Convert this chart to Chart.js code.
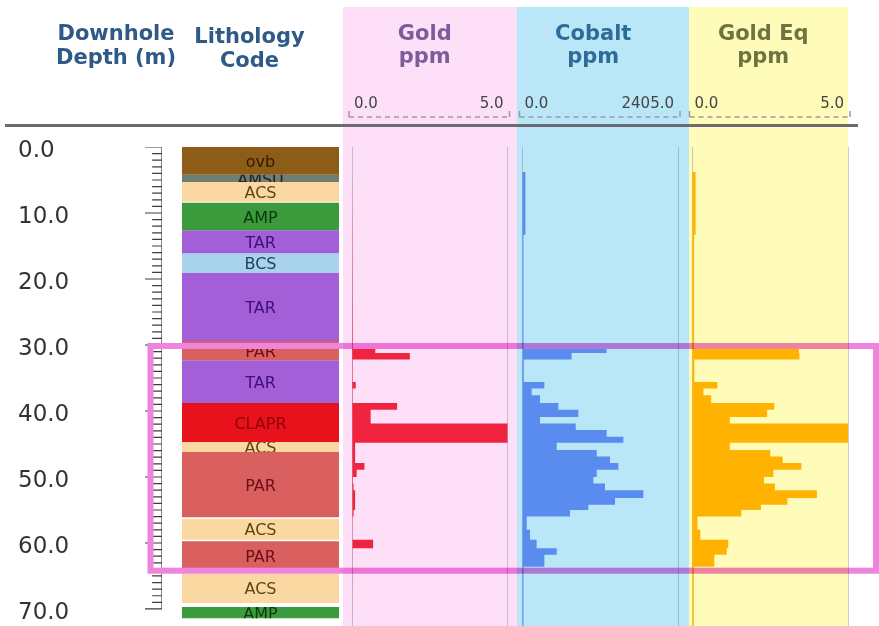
<!DOCTYPE html>
<html>
<head>
<meta charset="utf-8">
<title>Downhole log</title>
<script src="https://cdn.jsdelivr.net/npm/chart.js@4.4.1/dist/chart.umd.min.js"></script>
<style>
  html, body { margin: 0; padding: 0; background: #fff; }
  canvas { display: block; }
</style>
</head>
<body>
<canvas id="log" width="879" height="626"></canvas>
<script>
// ---- Lithology intervals (metres downhole) ----
const lithCodes  = ['ovb', 'AMSU', 'ACS', 'AMP', 'TAR', 'BCS', 'TAR', 'PAR', 'TAR', 'CLAPR', 'ACS', 'PAR', 'ACS', 'PAR', 'ACS', 'AMP'];
const lithTop    = [0.0, 4.2, 5.3, 8.45, 12.6, 16.1, 19.1, 29.4, 32.3, 38.8, 44.7, 46.2, 56.35, 59.75, 64.6, 69.7];
const lithBottom = [4.2, 5.3, 8.3, 12.6, 16.1, 19.1, 29.4, 32.3, 38.8, 44.7, 46.2, 56.1, 59.5, 64.2, 69.1, 71.4];

// ---- Assay sample intervals (metres) ----
const sampleFrom = [3.8, 13.3, 30.6, 31.2, 32.2, 35.6, 36.6, 37.6, 38.8, 39.8, 40.9, 41.9, 42.9, 43.9, 44.8, 45.9,
                    46.9, 47.9, 48.9, 50.0, 51.0, 52.0, 53.2, 54.2, 55.0, 56.0, 58.0, 59.5, 60.8, 61.8, 63.6];
const sampleTo   = [13.3, 30.6, 31.2, 32.2, 35.6, 36.6, 37.6, 38.8, 39.8, 40.9, 41.9, 42.9, 43.9, 44.8, 45.9, 46.9,
                    47.9, 48.9, 50.0, 51.0, 52.0, 53.2, 54.2, 55.0, 56.0, 58.0, 59.5, 60.8, 61.8, 63.6, 72.6];

// ---- Assay values ----
const goldPpm   = [0.03, 0.02, 0.75, 1.86, 0.02, 0.12, 0.02, 0.02, 1.45, 0.6, 0.6, 5.0, 5.0, 5.0, 0.1, 0.1,
                   0.1, 0.4, 0.15, 0.03, 0.05, 0.1, 0.1, 0.1, 0.05, 0.02, 0.02, 0.68, 0.02, 0.02, 0.02];
const cobaltPpm = [45, 15, 1300, 760, 20, 338, 142, 271, 554, 864, 271, 823, 1302, 1560, 529, 1148,
                   1354, 1483, 1148, 1096, 1276, 1869, 1431, 1018, 735, 65, 116, 219, 529, 338, 15];
const goldEqPpm = [0.1, 0.05, 3.42, 3.44, 0.06, 0.8, 0.35, 0.6, 2.63, 2.4, 1.2, 5.0, 5.0, 5.0, 1.2, 2.5,
                   2.9, 3.5, 2.6, 2.3, 2.65, 4.0, 3.05, 2.2, 1.57, 0.16, 0.25, 1.15, 1.1, 0.7, 0.04];

// ---- Track scales and headings ----
const depthMax     = 72.58;
const depthStep    = 10;
const rulerMax     = 70;
const goldMax      = 5.0;
const cobaltMax    = 2405.0;
const goldEqMax    = 5.0;
const highlightTop = 30.15;
const highlightBot = 64.2;

// ---- Styles ----
const lithPalette = {
  ovb:   { fill: '#8d5c17', text: '#2e1d05' },
  AMSU:  { fill: '#6f7e73', text: '#222222' },
  ACS:   { fill: '#fbd8a2', text: '#5b4418' },
  AMP:   { fill: '#3a9a3c', text: '#0c3a0c' },
  TAR:   { fill: '#a35fd8', text: '#3d0f78' },
  BCS:   { fill: '#a9d3ea', text: '#1d3d5c' },
  PAR:   { fill: '#da5f5f', text: '#6a0f14' },
  CLAPR: { fill: '#e8121c', text: '#900008' }
};
const FONT = '"DejaVu Sans", Verdana, sans-serif';
Chart.defaults.font.family = FONT;

// Step outline of an assay log: each sample becomes a block from 0 to its value.
function logOutline(values) {
  const pts = [];
  for (let i = 0; i < values.length; i++) {
    if (i === 0 || sampleFrom[i] !== sampleTo[i - 1]) {
      if (i > 0) pts.push({ x: 0, y: sampleTo[i - 1] });
      pts.push({ x: 0, y: sampleFrom[i] });
    }
    pts.push({ x: values[i], y: sampleFrom[i] });
    pts.push({ x: values[i], y: sampleTo[i] });
  }
  pts.push({ x: 0, y: sampleTo[sampleTo.length - 1] });
  return pts;
}

// Depth ruler: long tick every 10 m, short tick every metre, plus the spine.
function rulerMarks() {
  const pts = [];
  for (let d = 0; d <= rulerMax; d++) {
    pts.push({ x: d % depthStep === 0 ? 0 : 0.42, y: d }, { x: 1, y: d }, { x: 0, y: null });
  }
  pts.push({ x: 1, y: 0 }, { x: 1, y: rulerMax });
  return pts;
}

function trackAxis(max, weight, stackWeight) {
  return {
    type: 'linear', position: 'top', stack: 'tracks', weight, stackWeight,
    min: 0, max, offset: false,
    ticks: { display: false, stepSize: max },
    grid: { display: true, drawTicks: false, offset: false, color: 'rgba(110,105,130,0.35)', lineWidth: 1 },
    border: { display: false }
  };
}
function plainAxis(weight, stackWeight) {
  return { type: 'linear', position: 'top', stack: 'tracks', weight, stackWeight,
           display: false, offset: false, min: 0, max: 1 };
}

// Panels, column headings and scale captions.
const headerPlugin = {
  id: 'logHeader',
  beforeDraw(chart) {
    const { ctx, scales } = chart;
    const g = scales.gold, c = scales.cobalt, e = scales.goldEq, r = scales.ruler, l = scales.lith;
    ctx.save();
    ctx.fillStyle = '#ffffff';
    ctx.fillRect(0, 0, chart.width, chart.height);

    const panels = [
      [g.left - 9, c.left - 5.5, '#fde0f7'],
      [c.left - 5.5, e.left - 3.5, '#b9e7f7'],
      [e.left - 3.5, e.right, '#fffbb9']
    ];
    panels.forEach(([x0, x1, col]) => { ctx.fillStyle = col; ctx.fillRect(x0, 7, x1 - x0, chart.height - 7); });

    ctx.fillStyle = '#6b6b73';
    ctx.fillRect(5, 124, 853, 3);

    const headings = [
      { x: r.left - 29, lines: ['Downhole', 'Depth (m)'], base: [40, 64], color: '#2f5a88' },
      { x: (l.left + l.right) / 2 - 11, lines: ['Lithology', 'Code'], base: [43, 67], color: '#2f5a88' },
      { x: (g.left + g.right) / 2 - 5, lines: ['Gold', 'ppm'], base: [40, 63], color: '#7d5c9e' },
      { x: (c.left + c.right) / 2 - 7, lines: ['Cobalt', 'ppm'], base: [40, 63], color: '#2d6b98' },
      { x: (e.left + e.right) / 2 - 7, lines: ['Gold Eq', 'ppm'], base: [40, 63], color: '#6e7440' }
    ];
    ctx.font = 'bold 21px ' + FONT;
    ctx.textAlign = 'center';
    ctx.textBaseline = 'alphabetic';
    headings.forEach(h => {
      ctx.fillStyle = h.color;
      h.lines.forEach((t, i) => ctx.fillText(t, h.x, h.base[i]));
    });

    [g, c, e].forEach(s => {
      ctx.font = '15px ' + FONT;
      ctx.fillStyle = '#444';
      ctx.textBaseline = 'middle';
      ctx.textAlign = 'left';
      ctx.fillText(s.min.toFixed(1), s.left + 2, 104);
      ctx.textAlign = 'right';
      ctx.fillText(s.max.toFixed(1), s.right - 4, 104);

      const x0 = s.left - 3, x1 = s.right + 2;
      ctx.strokeStyle = '#9a9aa2';
      ctx.lineWidth = 1.5;
      ctx.setLineDash([5, 4]);
      ctx.beginPath(); ctx.moveTo(x0, 117); ctx.lineTo(x1, 117); ctx.stroke();
      ctx.setLineDash([]);
      ctx.beginPath();
      ctx.moveTo(x0, 111); ctx.lineTo(x0, 117);
      ctx.moveTo(x1, 111); ctx.lineTo(x1, 117);
      ctx.stroke();
    });
    ctx.restore();
  }
};

// Lithology codes written inside their bands.
const lithLabelPlugin = {
  id: 'lithLabels',
  afterDatasetsDraw(chart) {
    const { ctx, scales } = chart;
    const l = scales.lith, d = scales.depth;
    const x = (l.left + l.right) / 2;
    ctx.save();
    ctx.font = '16px ' + FONT;
    ctx.textAlign = 'center';
    ctx.textBaseline = 'middle';
    lithCodes.forEach((code, i) => {
      const top = d.getPixelForValue(lithTop[i]);
      const bottom = d.getPixelForValue(lithBottom[i]);
      ctx.save();
      ctx.beginPath();
      ctx.rect(l.left, top, l.right - l.left, bottom - top);
      ctx.clip();
      ctx.fillStyle = lithPalette[code].text;
      ctx.fillText(code, x, (top + bottom) / 2 + 2);
      ctx.restore();
    });
    ctx.restore();
  }
};

// Outline of the mineralised zone across all tracks.
const zonePlugin = {
  id: 'zoneFrame',
  afterDraw(chart) {
    const { ctx, scales } = chart;
    const y0 = scales.depth.getPixelForValue(highlightTop);
    const y1 = scales.depth.getPixelForValue(highlightBot);
    const x0 = scales.ruler.left + 5.5;
    const x1 = chart.width - 3;
    const split = scales.gold.left - 9;
    ctx.save();
    ctx.lineWidth = 6;
    ctx.strokeStyle = '#ee84de';
    ctx.save();
    ctx.beginPath(); ctx.rect(0, 0, split, chart.height); ctx.clip();
    ctx.strokeRect(x0, y0, x1 - x0, y1 - y0);
    ctx.restore();
    ctx.save();
    ctx.beginPath(); ctx.rect(split, 0, chart.width - split, chart.height); ctx.clip();
    ctx.globalCompositeOperation = 'multiply';
    ctx.strokeRect(x0, y0, x1 - x0, y1 - y0);
    ctx.restore();
    ctx.restore();
  }
};

// Each lithology interval is a filled block across the lithology column.
const lithDatasets = lithCodes.map((code, i) => ({
  type: 'line', label: code, xAxisID: 'lith', yAxisID: 'depth',
  data: [
    { x: 0, y: lithTop[i] }, { x: 1, y: lithTop[i] },
    { x: 1, y: lithBottom[i] }, { x: 0, y: lithBottom[i] }
  ],
  backgroundColor: lithPalette[code].fill, borderWidth: 0, pointRadius: 0, tension: 0, fill: 'shape'
}));

const lineTrack = (label, axis, values, color) => ({
  type: 'line', label, xAxisID: axis, yAxisID: 'depth',
  data: logOutline(values),
  backgroundColor: color, borderWidth: 0, pointRadius: 0, tension: 0, fill: 'shape'
});

new Chart(document.getElementById('log'), {
  type: 'line',
  data: {
    datasets: [
      ...lithDatasets,
      lineTrack('Gold ppm', 'gold', goldPpm, '#f0243f'),
      lineTrack('Cobalt ppm', 'cobalt', cobaltPpm, '#5a8cef'),
      lineTrack('Gold Eq ppm', 'goldEq', goldEqPpm, '#ffb300'),
      {
        type: 'line', label: 'ruler', xAxisID: 'ruler', yAxisID: 'depth',
        data: rulerMarks(), borderColor: '#3c3c3c', borderWidth: 1.2, pointRadius: 0, fill: false, spanGaps: false
      }
    ]
  },
  options: {
    responsive: false,
    devicePixelRatio: 1,
    animation: false,
    events: [],
    layout: { padding: { left: 18, right: 31, top: 147, bottom: 0 } },
    plugins: { legend: { display: false }, tooltip: { enabled: false }, title: { display: false } },
    scales: {
      depth: {
        type: 'linear', position: 'left', reverse: true, min: 0, max: depthMax,
        ticks: {
          stepSize: depthStep, includeBounds: false, autoSkip: false, crossAlign: 'far', padding: 0,
          labelOffset: 4, color: '#333', font: { size: 23 }, callback: v => v.toFixed(1)
        },
        grid: { display: false },
        border: { display: false },
        afterFit: s => { s.width = 127; s.paddingTop = 0; s.paddingBottom = 0; }
      },
      ruler:  plainAxis(9, 17),
      gap1:   plainAxis(8, 20),
      lith:   plainAxis(7, 157),
      gap2:   plainAxis(6, 13),
      gold:   trackAxis(goldMax, 5, 155.5),
      gap3:   plainAxis(4, 15),
      cobalt: trackAxis(cobaltMax, 3, 155.5),
      gap4:   plainAxis(2, 14.5),
      goldEq: trackAxis(goldEqMax, 1, 155.5)
    }
  },
  plugins: [headerPlugin, lithLabelPlugin, zonePlugin]
});
</script>
</body>
</html>
